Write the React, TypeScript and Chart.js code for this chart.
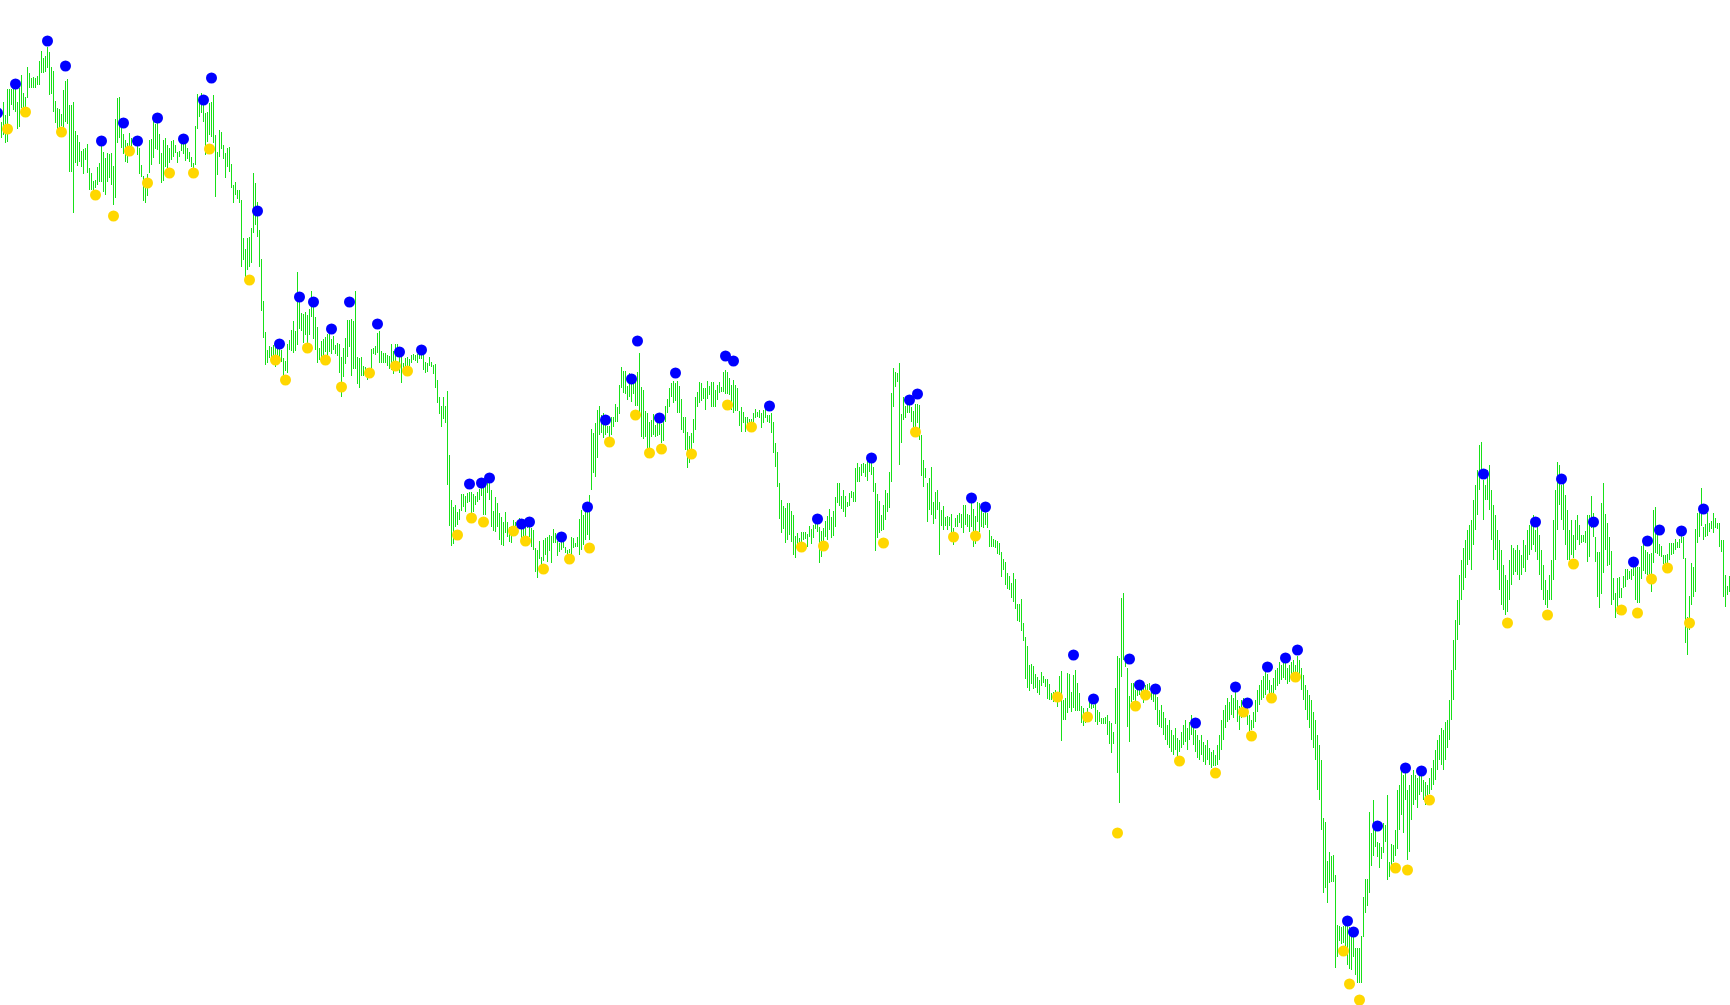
import React, { useEffect, useRef } from 'react';
import { Chart, registerables } from 'chart.js';

Chart.register(...registerables);

// Each bar: [top, bottom] on a depth-style price scale (scale is reversed)
const bars: number[][] = [
  [122,138],[102,135],[115,143],[89,142],[89,116],[89,105],[80,110],[89,112],[102,129],[88,127],
  [75,108],[93,108],[97,107],[67,98],[73,88],[78,88],[77,88],[78,88],[76,85],[61,85],
  [51,73],[58,73],[56,72],[47,68],[52,95],[67,94],[71,112],[101,123],[108,132],[109,131],
  [114,126],[90,128],[81,122],[79,124],[105,172],[105,172],[102,213],[131,163],[135,166],[142,162],
  [151,167],[149,174],[148,160],[144,173],[168,190],[173,190],[181,190],[180,188],[167,185],[163,182],
  [145,182],[152,192],[158,195],[153,182],[154,178],[153,185],[166,205],[119,198],[98,143],[97,138],
  [118,148],[134,154],[140,162],[143,163],[133,152],[138,153],[138,145],[138,145],[143,155],[148,174],
  [165,177],[176,201],[183,203],[174,196],[140,173],[139,165],[121,158],[124,149],[122,150],[134,164],
  [153,183],[140,181],[138,167],[145,168],[148,163],[141,160],[140,157],[145,153],[152,163],[151,157],
  [140,151],[134,154],[141,161],[148,159],[152,162],[157,167],[163,170],[126,165],[94,129],[99,117],
  [93,113],[101,122],[113,155],[112,142],[103,135],[102,137],[95,143],[135,197],[152,175],[130,157],
  [132,149],[145,159],[153,178],[148,167],[147,172],[164,188],[185,203],[182,195],[190,199],[190,203],
  [200,267],[238,260],[249,279],[238,270],[237,267],[228,263],[173,233],[183,225],[202,237],[230,267],
  [259,311],[301,338],[332,365],[350,363],[346,358],[347,361],[345,357],[344,367],[347,355],[348,360],
  [350,362],[358,377],[361,371],[344,373],[340,350],[330,351],[321,353],[331,351],[272,345],[293,329],
  [313,331],[314,343],[312,335],[315,353],[309,335],[291,317],[303,339],[317,350],[327,363],[348,360],
  [341,362],[339,356],[337,352],[334,356],[332,352],[339,354],[336,350],[345,354],[343,356],[344,373],
  [357,397],[348,377],[338,364],[320,357],[320,347],[319,376],[321,369],[291,369],[357,384],[358,388],
  [357,376],[366,376],[367,375],[368,380],[369,374],[349,373],[348,354],[346,355],[333,353],[331,363],
  [351,363],[353,363],[353,363],[355,366],[356,369],[344,370],[351,374],[344,365],[344,357],[354,373],
  [357,383],[363,373],[358,367],[357,368],[359,366],[355,363],[354,360],[355,361],[354,363],[354,359],
  [354,359],[355,370],[362,373],[363,372],[357,366],[362,367],[365,374],[364,388],[380,403],[397,414],
  [406,427],[397,419],[406,423],[391,485],[455,526],[500,546],[507,544],[505,527],[512,525],[509,520],
  [494,511],[494,507],[496,512],[493,503],[492,502],[492,513],[494,512],[496,505],[492,502],[489,500],
  [487,496],[487,515],[485,515],[483,493],[482,500],[490,527],[511,531],[497,532],[503,527],[513,540],
  [517,545],[522,546],[512,533],[522,537],[527,542],[529,543],[520,533],[522,531],[523,529],[518,526],
  [523,538],[529,541],[527,536],[518,528],[524,537],[528,547],[530,550],[548,572],[550,578],[541,559],
  [557,567],[540,561],[538,555],[537,562],[535,551],[536,563],[529,543],[533,543],[541,556],[543,552],
  [540,550],[542,548],[547,553],[550,557],[549,553],[537,555],[538,548],[543,547],[537,547],[519,555],
  [510,550],[515,545],[505,540],[512,535],[495,540],[429,490],[433,473],[423,477],[410,458],[406,435],
  [415,433],[413,438],[420,435],[426,433],[426,438],[417,435],[417,427],[404,422],[407,422],[385,414],
  [367,388],[371,393],[371,394],[386,400],[373,397],[375,402],[374,394],[378,406],[372,406],[353,415],
  [387,437],[390,439],[411,437],[413,449],[422,450],[420,437],[414,435],[425,437],[422,436],[419,435],
  [424,443],[420,441],[406,422],[399,413],[388,407],[383,397],[381,403],[383,401],[381,413],[386,413],
  [399,430],[417,433],[417,450],[432,468],[436,463],[433,449],[419,443],[397,430],[392,407],[382,403],
  [383,401],[388,399],[388,410],[381,399],[386,395],[382,407],[382,407],[390,407],[385,400],[382,393],
  [387,392],[372,392],[370,394],[372,394],[378,395],[385,410],[380,413],[385,411],[388,411],[411,426],
  [407,432],[412,423],[417,432],[417,425],[419,427],[419,424],[413,427],[409,418],[412,417],[410,418],
  [413,428],[410,423],[408,418],[415,422],[415,423],[413,433],[422,453],[443,467],[452,487],[483,519],
  [500,533],[506,529],[508,543],[503,540],[503,535],[511,542],[515,555],[536,558],[533,550],[538,550],
  [532,543],[532,540],[532,539],[534,547],[526,537],[529,544],[525,538],[523,529],[523,532],[527,563],
  [531,557],[528,547],[521,537],[516,540],[509,530],[517,538],[511,536],[497,527],[483,503],[483,506],
  [496,509],[490,512],[496,517],[502,507],[493,506],[491,498],[492,502],[468,502],[463,482],[467,482],
  [464,476],[463,473],[464,477],[457,481],[458,472],[462,475],[467,492],[483,551],[494,538],[501,533],
  [515,531],[505,530],[490,520],[493,512],[472,508],[393,482],[368,407],[372,387],[373,382],[363,465],
  [414,443],[397,420],[406,418],[404,413],[403,413],[407,422],[411,428],[404,428],[404,423],[405,440],
  [435,476],[460,487],[468,478],[483,522],[478,510],[467,515],[502,524],[492,519],[490,510],[502,555],
  [510,526],[506,530],[517,526],[516,530],[517,526],[514,533],[528,545],[518,527],[515,527],[513,523],
  [514,528],[505,533],[505,525],[514,527],[515,532],[503,527],[509,547],[516,544],[502,522],[503,532],
  [506,527],[513,528],[510,525],[513,528],[530,547],[536,547],[539,547],[540,548],[541,554],[543,555],
  [552,577],[559,570],[562,585],[573,589],[576,590],[583,598],[573,602],[579,609],[604,621],[604,622],
  [599,631],[623,641],[637,679],[646,688],[665,691],[664,684],[666,689],[674,688],[677,693],[680,695],
  [672,686],[676,683],[679,687],[679,699],[684,700],[693,700],[692,702],[690,698],[695,707],[676,693],
  [671,741],[700,720],[698,720],[673,713],[674,708],[692,712],[675,708],[670,711],[683,711],[693,711],
  [706,723],[708,726],[717,723],[708,717],[700,708],[703,709],[705,708],[696,722],[710,725],[712,722],
  [718,724],[718,724],[717,724],[715,735],[721,744],[723,753],[732,744],[688,724],[656,773],[658,803],
  [598,677],[593,660],[657,667],[668,727],[696,742],[683,702],[683,700],[690,702],[685,696],[685,695],
  [683,697],[688,703],[685,695],[684,697],[683,690],[687,700],[684,702],[690,710],[697,725],[710,727],
  [705,728],[712,735],[718,740],[725,745],[720,748],[730,752],[735,755],[728,750],[738,758],[740,752],
  [732,748],[725,745],[720,742],[728,750],[722,740],[715,735],[722,745],[730,752],[735,758],[740,760],
  [735,755],[742,762],[745,765],[740,760],[748,765],[752,768],[750,766],[755,766],[745,765],[735,760],
  [720,750],[710,740],[705,728],[698,722],[702,720],[695,715],[698,718],[692,710],[700,722],[706,730],
  [700,718],[698,712],[702,714],[705,725],[715,732],[720,730],[712,728],[700,722],[690,712],[685,705],
  [680,700],[676,698],[672,695],[674,690],[680,698],[685,694],[678,695],[670,690],[668,686],[662,684],
  [665,680],[660,678],[663,680],[668,684],[665,682],[662,678],[660,676],[665,674],[656,672],[660,680],
  [668,690],[675,700],[685,710],[690,720],[695,728],[700,740],[712,748],[720,760],[735,790],[745,800],
  [760,830],[818,893],[822,888],[861,903],[852,883],[856,882],[855,882],[875,968],[925,957],[926,941],
  [927,944],[926,943],[919,949],[919,965],[927,969],[933,970],[935,957],[948,975],[948,983],[948,983],
  [936,983],[897,937],[879,913],[879,906],[812,893],[833,866],[800,856],[827,847],[842,857],[843,868],
  [847,859],[823,853],[825,842],[795,880],[862,877],[844,870],[845,862],[830,856],[790,849],[785,830],
  [770,815],[775,833],[772,800],[790,860],[785,852],[775,820],[770,805],[775,800],[778,808],[772,795],
  [775,792],[780,800],[782,805],[785,800],[778,794],[768,790],[760,785],[750,780],[740,770],[735,760],
  [728,765],[730,770],[722,760],[720,748],[700,740],[670,720],[640,700],[620,670],[600,640],[575,625],
  [560,600],[548,590],[540,578],[530,565],[525,560],[520,570],[500,545],[485,530],[470,515],[445,490],
  [442,475],[480,520],[485,500],[470,500],[465,510],[490,540],[505,560],[515,550],[530,570],[540,590],
  [550,605],[565,610],[575,615],[580,612],[560,600],[545,585],[548,575],[550,572],[545,575],[550,580],
  [555,575],[540,568],[545,572],[530,560],[525,555],[520,550],[515,545],[530,552],[525,560],[535,575],
  [550,590],[565,600],[580,605],[590,608],[575,600],[560,600],[520,580],[490,560],[462,530],[465,505],
  [485,520],[480,530],[495,545],[510,560],[530,560],[520,555],[535,558],[520,550],[515,540],[525,545],
  [535,543],[535,542],[531,543],[515,562],[515,557],[496,528],[513,537],[537,562],[552,597],[552,608],
  [503,594],[483,573],[514,550],[523,566],[537,565],[551,605],[578,600],[593,618],[578,614],[577,598],
  [588,598],[576,588],[569,587],[569,580],[571,579],[569,580],[567,576],[567,600],[567,603],[567,603],
  [546,579],[543,571],[550,574],[552,575],[554,583],[553,592],[510,563],[507,553],[529,554],[544,556],
  [546,557],[555,564],[555,572],[554,564],[543,560],[543,555],[543,554],[539,550],[542,548],[539,548],
  [535,543],[537,559],[558,643],[617,655],[596,630],[563,605],[567,597],[529,592],[513,543],[512,537],
  [488,526],[527,540],[524,537],[513,536],[523,532],[521,529],[513,533],[518,528],[523,529],[523,547],
  [540,552],[540,597],[575,607],[586,595],[576,592],
];

// Upper (blue) markers: bar index and value
const upperIndex = [
  -2, 7, 23, 32, 50, 61, 68, 78, 91, 101, 105, 128, 139, 149, 156, 165, 174, 188, 199, 210,
  234, 240, 244, 260, 264, 280, 293, 302, 315, 318, 329, 337, 362, 366, 384, 408, 435, 454, 458, 485,
  492, 536, 546, 564, 569, 577, 597, 617, 623, 633, 642, 648, 673, 676, 688, 702, 710, 741, 767, 780,
  796, 816, 823, 829, 840, 851,
];
const upperValue = [
  113, 84, 41, 66, 141, 123, 141, 118, 139, 100, 78, 211, 344, 297, 302, 329, 302, 324, 352, 350,
  484, 483, 478, 524, 522, 537, 507, 420, 379, 341, 418, 373, 356, 361, 406, 519, 458, 400, 394, 498,
  507, 655, 699, 659, 685, 689, 723, 687, 703, 667, 658, 650, 921, 932, 826, 768, 771, 474, 522, 479,
  522, 562, 541, 530, 531, 509,
];

// Lower (yellow) markers: bar index and value
const lowerIndex = [
  3, 12, 30, 47, 56, 64, 73, 84, 96, 104, 124, 137, 142, 153, 162, 170, 184, 197, 203, 228,
  235, 241, 256, 262, 271, 284, 294, 304, 317, 324, 330, 345, 363, 375, 400, 411, 441, 457, 476, 487,
  528, 543, 558, 567, 572, 589, 607, 621, 625, 635, 647, 671, 674, 679, 697, 703, 714, 753, 773, 786,
  810, 818, 825, 833, 844,
];
const lowerValue = [
  129, 112, 132, 195, 216, 151, 183, 173, 173, 149, 280, 360, 380, 348, 360, 387, 373, 366, 371, 535,
  518, 522, 531, 541, 569, 559, 548, 442, 415, 453, 449, 454, 405, 427, 547, 546, 543, 432, 537, 536,
  697, 717, 833, 706, 695, 761, 773, 712, 736, 698, 677, 951, 984, 1000, 868, 870, 800, 623, 615, 564,
  610, 613, 579, 568, 623,
];

const W = 1730;
const H = 1005;

export default function App() {
  const ref = useRef<HTMLCanvasElement | null>(null);

  useEffect(() => {
    document.body.style.margin = '0';
    const canvas = ref.current;
    if (!canvas) return;
    const chart = new Chart(canvas, {
      type: 'bar',
      data: {
        datasets: [
          {
            type: 'scatter',
            data: upperIndex.map((x, i) => ({ x, y: upperValue[i] })),
            backgroundColor: '#0000ff',
            pointBackgroundColor: '#0000ff',
            pointBorderWidth: 0,
            pointRadius: 5.5,
            pointHoverRadius: 5.5,
            order: 0,
          } as any,
          {
            type: 'scatter',
            data: lowerIndex.map((x, i) => ({ x, y: lowerValue[i] })),
            backgroundColor: '#ffd700',
            pointBackgroundColor: '#ffd700',
            pointBorderWidth: 0,
            pointRadius: 5.5,
            pointHoverRadius: 5.5,
            order: 1,
          } as any,
          {
            type: 'bar',
            data: bars.map((b, i) => ({ x: i, y: [b[0], b[1]] })),
            backgroundColor: '#18e018',
            borderWidth: 0,
            barThickness: 1,
            inflateAmount: 0,
            order: 2,
          } as any,
        ],
      },
      options: {
        animation: false,
        responsive: false,
        maintainAspectRatio: false,
        devicePixelRatio: 1,
        events: [],
        layout: { padding: 0, autoPadding: false },
        plugins: {
          legend: { display: false },
          tooltip: { enabled: false },
          title: { display: false },
        },
        scales: {
          x: {
            type: 'linear',
            min: -0.75,
            max: bars.length - 0.75,
            offset: false,
            display: false,
            grid: { display: false, offset: false },
          },
          y: {
            type: 'linear',
            min: 0,
            max: H,
            reverse: true,
            display: false,
            grid: { display: false },
          },
        },
      } as any,
    });
    return () => chart.destroy();
  }, []);

  return (
    <div style={{ position: 'fixed', left: 0, top: 0, width: W, height: H, background: '#ffffff' }}>
      <canvas ref={ref} width={W} height={H} style={{ display: 'block', width: W, height: H }} />
    </div>
  );
}
